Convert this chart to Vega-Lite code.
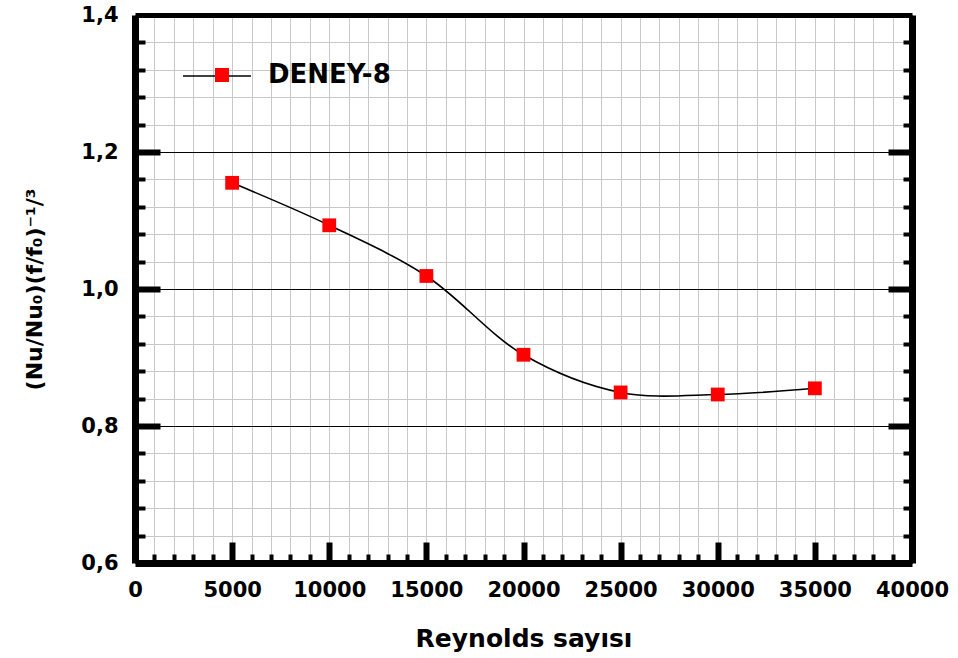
{
  "$schema": "https://vega.github.io/schema/vega-lite/v6.json",
  "width": 777,
  "height": 548,
  "autosize": "none",
  "padding": {"left": 135, "top": 15, "right": 46, "bottom": 95},
  "background": "white",
  "data": {
    "values": [
      {"Re": 5000, "val": 1.155, "series": "DENEY-8"},
      {"Re": 10000, "val": 1.093, "series": "DENEY-8"},
      {"Re": 15000, "val": 1.019, "series": "DENEY-8"},
      {"Re": 20000, "val": 0.904, "series": "DENEY-8"},
      {"Re": 25000, "val": 0.849, "series": "DENEY-8"},
      {"Re": 30000, "val": 0.846, "series": "DENEY-8"},
      {"Re": 35000, "val": 0.855, "series": "DENEY-8"}
    ]
  },
  "config": {
    "view": {"stroke": null},
    "font": "DejaVu Sans",
    "axis": {
      "labelFont": "DejaVu Sans",
      "labelFontWeight": "bold",
      "titleFont": "DejaVu Sans",
      "titleFontWeight": "bold",
      "labelColor": "black",
      "titleColor": "black",
      "domainColor": "black",
      "tickColor": "black",
      "tickCap": "butt",
      "labelOverlap": false,
      "labelFlush": false
    },
    "legend": {"padding": 0}
  },
  "layer": [
    {
      "mark": {"type": "point", "opacity": 0},
      "encoding": {
        "x": {
          "field": "Re", "type": "quantitative",
          "scale": {"domain": [0, 40000], "nice": false},
          "axis": {
            "orient": "bottom",
            "values": [0,1000,2000,3000,4000,5000,6000,7000,8000,9000,10000,11000,12000,13000,14000,15000,16000,17000,18000,19000,20000,21000,22000,23000,24000,25000,26000,27000,28000,29000,30000,31000,32000,33000,34000,35000,36000,37000,38000,39000,40000],
            "grid": true, "gridColor": "#c8c8c8", "gridWidth": 1,
            "ticks": false, "labels": false, "domain": false, "title": null, "zindex": 0
          }
        },
        "y": {
          "field": "val", "type": "quantitative",
          "scale": {"domain": [0.6, 1.4], "nice": false, "zero": false},
          "axis": {
            "orient": "left",
            "values": [0.6,0.64,0.68,0.72,0.76,0.8,0.84,0.88,0.92,0.96,1.0,1.04,1.08,1.12,1.16,1.2,1.24,1.28,1.32,1.36,1.4],
            "grid": true, "gridColor": "#c8c8c8", "gridWidth": 1,
            "ticks": false, "labels": false, "domain": false, "title": null, "zindex": 0
          }
        }
      }
    },
    {
      "mark": {"type": "line", "interpolate": "catmull-rom", "strokeWidth": 1.6},
      "encoding": {
        "x": {
          "field": "Re", "type": "quantitative",
          "scale": {"domain": [0, 40000], "nice": false},
          "axis": {
            "orient": "bottom",
            "values": [0,5000,10000,15000,20000,25000,30000,35000,40000],
            "format": "d",
            "labelFontSize": 21, "labelPadding": 16,
            "ticks": false, "domain": true, "domainWidth": 7, "grid": false,
            "title": "Reynolds sayısı", "titleFontSize": 25, "titlePadding": 26,
            "zindex": 2
          }
        },
        "y": {
          "field": "val", "type": "quantitative",
          "scale": {"domain": [0.6, 1.4], "nice": false, "zero": false},
          "axis": {
            "orient": "left",
            "values": [0.6, 0.8, 1.0, 1.2, 1.4],
            "labelExpr": "replace(format(datum.value, '.1f'), '.', ',')",
            "labelFontSize": 21, "labelPadding": 17,
            "grid": true, "gridColor": "black", "gridWidth": 1,
            "ticks": false, "domain": true, "domainWidth": 7,
            "title": "(Nu/Nu₀)(f/f₀)⁻¹/³", "titleFontSize": 22, "titlePadding": 34,
            "zindex": 2
          }
        },
        "stroke": {
          "datum": "curve",
          "scale": {"range": ["black"]},
          "legend": {
            "orient": "none", "legendX": 47, "legendY": 26, "title": null,
            "symbolType": "stroke", "symbolSize": 4624, "symbolStrokeWidth": 1.6,
            "labelExpr": "''"
          }
        }
      }
    },
    {
      "mark": {"type": "point", "shape": "square", "filled": true, "size": 190, "opacity": 1},
      "encoding": {
        "x": {
          "field": "Re", "type": "quantitative",
          "scale": {"domain": [0, 40000], "nice": false},
          "axis": {
            "orient": "bottom",
            "values": [5000,10000,15000,20000,25000,30000,35000],
            "ticks": true, "tickSize": -21, "tickWidth": 6,
            "labels": false, "domain": false, "grid": false, "title": null, "zindex": 2
          }
        },
        "y": {
          "field": "val", "type": "quantitative",
          "scale": {"domain": [0.6, 1.4], "nice": false, "zero": false},
          "axis": {
            "orient": "left",
            "values": [0.8, 1.0, 1.2],
            "ticks": true, "tickSize": -25, "tickWidth": 6,
            "labels": false, "domain": false, "grid": false, "title": null, "zindex": 2
          }
        },
        "fill": {
          "field": "series", "type": "nominal",
          "scale": {"range": ["#ff0000"]},
          "legend": {
            "orient": "none", "legendX": 74, "legendY": 47, "title": null,
            "symbolType": "square", "symbolSize": 196, "symbolOpacity": 1,
            "labelFont": "DejaVu Sans", "labelFontWeight": "bold", "labelFontSize": 26,
            "labelColor": "black", "labelOffset": 33
          }
        }
      }
    },
    {
      "mark": {"type": "point", "opacity": 0},
      "encoding": {
        "x": {
          "field": "Re", "type": "quantitative",
          "scale": {"domain": [0, 40000], "nice": false},
          "axis": {
            "orient": "bottom",
            "values": [1000,2000,3000,4000,6000,7000,8000,9000,11000,12000,13000,14000,16000,17000,18000,19000,21000,22000,23000,24000,26000,27000,28000,29000,31000,32000,33000,34000,36000,37000,38000,39000],
            "ticks": true, "tickSize": -9, "tickWidth": 4,
            "labels": false, "domain": false, "grid": false, "title": null, "zindex": 2
          }
        },
        "y": {
          "field": "val", "type": "quantitative",
          "scale": {"domain": [0.6, 1.4], "nice": false, "zero": false},
          "axis": {
            "orient": "left",
            "values": [0.64,0.68,0.72,0.76,0.84,0.88,0.92,0.96,1.04,1.08,1.12,1.16,1.24,1.28,1.32,1.36],
            "ticks": true, "tickSize": -10, "tickWidth": 4,
            "labels": false, "domain": false, "grid": false, "title": null, "zindex": 2
          }
        }
      }
    },
    {
      "mark": {"type": "point", "opacity": 0},
      "encoding": {
        "x": {
          "field": "Re", "type": "quantitative",
          "scale": {"domain": [0, 40000], "nice": false},
          "axis": {
            "orient": "top",
            "values": [0],
            "ticks": false, "labels": false, "domain": true, "domainWidth": 5,
            "grid": false, "title": null, "zindex": 2
          }
        },
        "y": {
          "field": "val", "type": "quantitative",
          "scale": {"domain": [0.6, 1.4], "nice": false, "zero": false},
          "axis": {
            "orient": "right",
            "values": [0.8, 1.0, 1.2],
            "ticks": true, "tickSize": -24, "tickWidth": 6,
            "labels": false, "domain": true, "domainWidth": 7,
            "grid": false, "title": null, "zindex": 2
          }
        }
      }
    },
    {
      "mark": {"type": "point", "opacity": 0},
      "encoding": {
        "x": {
          "field": "Re", "type": "quantitative",
          "scale": {"domain": [0, 40000], "nice": false},
          "axis": null
        },
        "y": {
          "field": "val", "type": "quantitative",
          "scale": {"domain": [0.6, 1.4], "nice": false, "zero": false},
          "axis": {
            "orient": "right",
            "values": [0.64,0.68,0.72,0.76,0.84,0.88,0.92,0.96,1.04,1.08,1.12,1.16,1.24,1.28,1.32,1.36],
            "ticks": true, "tickSize": -9, "tickWidth": 4,
            "labels": false, "domain": false, "grid": false, "title": null, "zindex": 2
          }
        }
      }
    }
  ],
  "resolve": {"axis": {"x": "independent", "y": "independent"}}
}
